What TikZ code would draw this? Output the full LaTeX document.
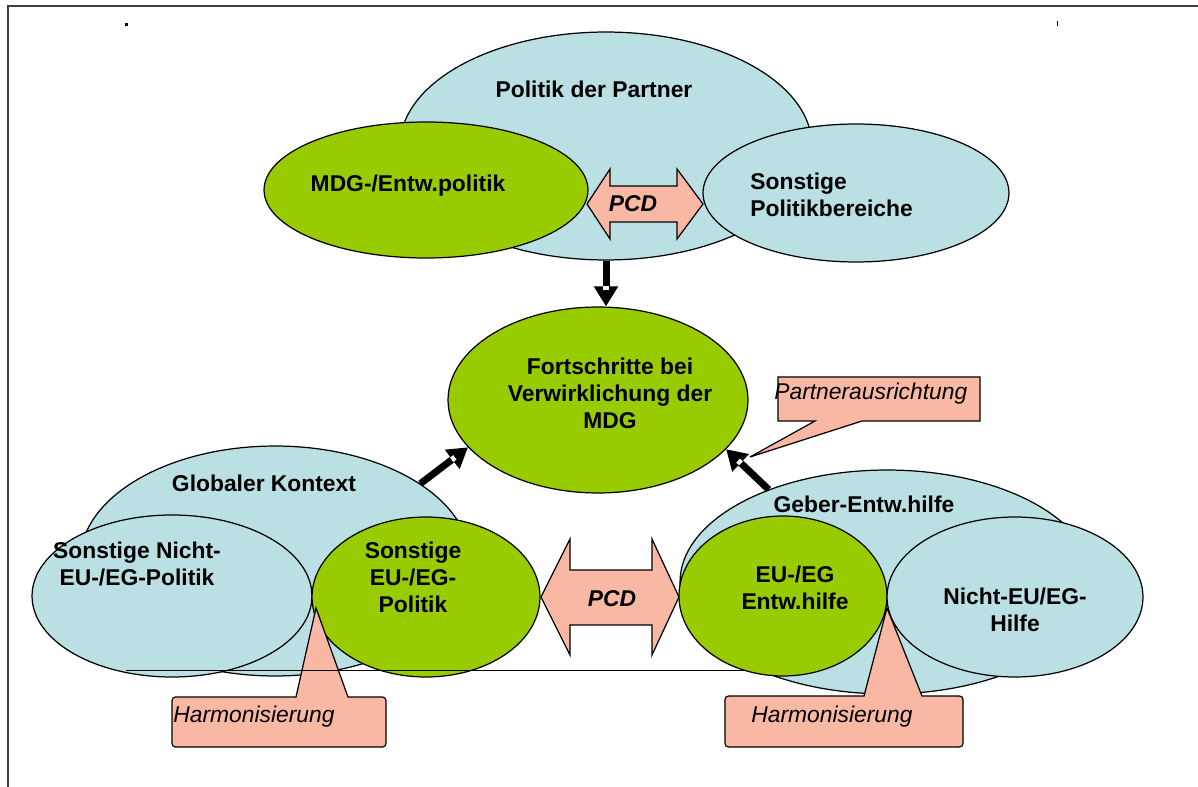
\documentclass[tikz,border=0pt]{standalone}
\usepackage{fontspec}
\setmainfont{Liberation Sans}
\usetikzlibrary{shapes.geometric,arrows.meta,decorations.markings}
\definecolor{PaleTeal}{HTML}{BBE0E3}
\definecolor{LeafGreen}{HTML}{99CC00}
\definecolor{Salmon}{HTML}{F9B8A4}

\begin{document}
\begin{tikzpicture}[x=0.02cm,y=-0.02cm,
    blob/.style={ellipse,draw=black,line width=0.7pt,inner sep=0pt},
    sky/.style={blob,fill=PaleTeal},
    leaf/.style={blob,fill=LeafGreen},
    note/.style={draw=black,line width=0.7pt,fill=Salmon},
    lbl/.style={inner sep=0pt,align=center,font=\fontsize{13}{15.3}\selectfont\bfseries},
    hint/.style={inner sep=0pt,anchor=base west,font=\fontsize{13}{15.3}\selectfont\itshape},
    fat/.style={line width=0.14cm,-{Triangle[length=0.4cm,width=0.46cm]},
      postaction={decorate},decoration={markings,
        mark=at position 0.999 with {\fill[white] (-0.41cm,-0.055cm) rectangle (-0.33cm,0.055cm);}}}
  ]
    \useasboundingbox (0,0) rectangle (1198,787);
    % page frame
    \draw[line width=1pt,black!75] (8,787) -- (8,6) -- (1198,6);
    \fill (125,23) rectangle (128,26);
    \fill (1057,21) rectangle (1058.2,26);

    % partner side
    \node[sky,minimum width=8.24cm,minimum height=4.56cm](P) at (606,146) {};
    \node[leaf,minimum width=6.48cm,minimum height=2.72cm](M) at (426,190) {};
    \node[sky,minimum width=6.12cm,minimum height=2.76cm](S) at (856,193) {};
    \draw[note](587,204)--(610,169)--(610,186)--(677,186)--(677,169)--(703,204)
      --(677,239)--(677,222)--(610,222)--(610,239)--cycle;
    \node[lbl,anchor=base](Pt) at (594,98) {Politik der Partner};
    \node[lbl,anchor=base](Mt) at (408,192) {MDG-/Entw.politik};
    \node[lbl,anchor=west,align=left](St) at (750,195) {Sonstige\\Politikbereiche};
    \node[lbl,anchor=base,font=\fontsize{13}{15.3}\selectfont\bfseries\itshape](C1) at (633,212) {PCD};

    % goal
    \node[leaf,minimum width=6cm,minimum height=3.72cm](G) at (598,400) {};
    \node[lbl](Gt) at (610,393) {Fortschritte bei\\Verwirklichung der\\MDG};

    % global context
    \node[sky,minimum width=7.8cm,minimum height=4.6cm](K) at (275,561) {};
    \node[sky,minimum width=5.6cm,minimum height=3.24cm](N) at (172,596) {};
    \node[leaf,minimum width=4.56cm,minimum height=3.2cm](E) at (426,597) {};
    \node[lbl,anchor=base](Kt) at (264,492) {Globaler Kontext};
    \node[lbl](Nt) at (137,564) {Sonstige Nicht-\\EU-/EG-Politik};
    \node[lbl](Et) at (413,577) {Sonstige\\EU-/EG-\\Politik};
    \draw[note](316,608)--(348,697){[rounded corners=0.07cm]--(386,697)--(386,747)
      --(172,747)--(172,697)}--(296,697)--cycle;
    \node[hint](H1) at (173,722) {Harmonisierung};
    \draw[line width=0.5pt](126,670)--(760,670);

    % donor aid
    \node[sky,minimum width=8.28cm,minimum height=4.48cm](D) at (887,582) {};
    \node[leaf,minimum width=4.16cm,minimum height=3.2cm](A) at (783,596) {};
    \node[sky,minimum width=5.12cm,minimum height=3.2cm](B) at (1015,597) {};
    \node[lbl,anchor=base](Dt) at (864,513) {Geber-Entw.hilfe};
    \node[lbl](At) at (795,588) {EU-/EG\\Entw.hilfe};
    \node[lbl](Bt) at (1015,610) {Nicht-EU/EG-\\Hilfe};
    \draw[note](887,608)--(922,696){[rounded corners=0.07cm]--(963,696)--(963,747)
      --(725,747)--(725,696)}--(864,696)--cycle;
    \node[hint](H2) at (751,722) {Harmonisierung};

    \draw[note](541,597)--(570,539)--(570,570)--(652,570)--(652,539)--(679,597)
      --(652,655)--(652,625)--(570,625)--(570,655)--cycle;
    \node[lbl,anchor=base,font=\fontsize{13}{15.3}\selectfont\bfseries\itshape](C2) at (612,606) {PCD};

    % partner alignment
    \draw[note](778,377)--(980,377)--(980,421)--(862,421)--(750,457)--(815,421)--(778,421)--cycle;
    \node[hint](Rt) at (774,399) {Partnerausrichtung};

    \draw[fat](P.south)--(P.south |- G.north);
    \draw[fat](K.28)--(G.200);
    \draw[fat](D.142)--(G.339);
  \end{tikzpicture}
\end{document}
